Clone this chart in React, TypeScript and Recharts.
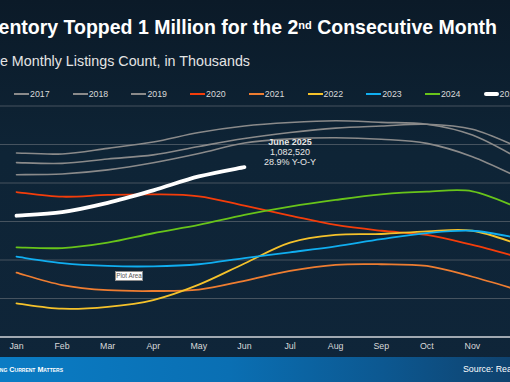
import React from 'react';
import { LineChart, Line, XAxis, YAxis, CartesianGrid, ReferenceDot } from 'recharts';

const months = ['Jan', 'Feb', 'Mar', 'Apr', 'May', 'Jun', 'Jul', 'Aug', 'Sep', 'Oct', 'Nov', 'Dec'];
const years = ['2017', '2018', '2019', '2020', '2021', '2022', '2023', '2024', '2025'];

const y2017 = [1156, 1151, 1180, 1213, 1262, 1296, 1314, 1323, 1315, 1305, 1249, 1130];
const y2018 = [1106, 1102, 1125, 1146, 1190, 1231, 1262, 1285, 1296, 1305, 1279, 1187];
const y2019 = [1043, 1047, 1068, 1105, 1153, 1208, 1229, 1235, 1227, 1206, 1137, 1031];
const y2020 = [953, 929, 938, 941, 931, 882, 831, 782, 752, 730, 678, 616];
const y2021 = [534, 470, 443, 439, 446, 492, 544, 575, 578, 569, 513, 444];
const y2022 = [375, 347, 357, 392, 472, 582, 690, 730, 735, 749, 752, 683];
const y2023 = [617, 584, 569, 567, 578, 610, 640, 671, 708, 740, 752, 714];
const y2024 = [666, 662, 690, 739, 782, 834, 877, 912, 941, 955, 957, 872];
const y2025 = [830, 849, 897, 962, 1034, 1082.52, null, null, null, null, null, null];

const yTicks = [200, 400, 600, 800, 1000, 1200, 1400];

const titleText = 'Inventory Topped 1 Million for the 2';
const titleSup = 'nd';
const titleRest = ' Consecutive Month';
const subtitleText = 'Active Monthly Listings Count, in Thousands';
const annMonth = 'Jul';
const annValue = 1163;
const annLines = ['June 2025', '1,082,520', '28.9% Y-O-Y'];
const footerLeft = 'Keeping Current Matters';
const footerRight = 'Source: Realtor.com';

const seriesValues = [y2017, y2018, y2019, y2020, y2021, y2022, y2023, y2024, y2025];
const seriesColors = ['#8a8a8a', '#8a8a8a', '#8a8a8a', '#f43d0a', '#ee7d31', '#f5c22b', '#10aef0', '#68c41a', '#ffffff'];
const seriesWidths = [1.6, 1.6, 1.6, 1.8, 1.8, 1.8, 1.8, 1.8, 3.8];

const data = months.map((m, i) => {
  const row: Record<string, any> = { month: m };
  years.forEach((y, k) => {
    row[y] = seriesValues[k][i];
  });
  return row;
});

const FONT = '"Liberation Sans", Arial, sans-serif';

// Excel-like smoothing (uniform Catmull-Rom as cubic Bezier)
const smoothCurve = (context: any) => {
  let pts: number[][] = [];
  return {
    areaStart() {},
    areaEnd() {},
    lineStart() {
      pts = [];
    },
    lineEnd() {
      const n = pts.length;
      if (!n) return;
      context.moveTo(pts[0][0], pts[0][1]);
      if (n === 1) {
        context.lineTo(pts[0][0], pts[0][1]);
        return;
      }
      for (let i = 0; i < n - 1; i++) {
        const p0 = pts[i - 1] || pts[i];
        const p1 = pts[i];
        const p2 = pts[i + 1];
        const p3 = pts[i + 2] || p2;
        const c1x = p1[0] + (p2[0] - p0[0]) / 6;
        const c1y = p1[1] + (p2[1] - p0[1]) / 6;
        const c2x = p2[0] - (p3[0] - p1[0]) / 6;
        const c2y = p2[1] - (p3[1] - p1[1]) / 6;
        context.bezierCurveTo(c1x, c1y, c2x, c2y, p2[0], p2[1]);
      }
    },
    point(x: number, y: number) {
      pts.push([+x, +y]);
    },
  };
};

const AnnLabel = (props: any) => {
  const vb = props.viewBox || {};
  const cx = (vb.x || 0) + (vb.width || 0) / 2;
  const cy = (vb.y || 0) + (vb.height || 0) / 2;
  return (
    <g>
      {annLines.map((t, i) => (
        <text
          key={t}
          x={cx}
          y={cy + (i - 1) * 10}
          textAnchor="middle"
          dominantBaseline="central"
          fill="#e6e6e6"
          fontSize={9}
          fontWeight={i === 0 ? 700 : 400}
          fontFamily={FONT}
        >
          {t}
        </text>
      ))}
    </g>
  );
};

export default function App() {
  return (
    <div
      style={{
        position: 'fixed',
        left: 0,
        top: 0,
        width: 510,
        height: 382,
        overflow: 'hidden',
        background: 'linear-gradient(180deg, #0b1a28 0%, #0e2436 40%, #0f2539 100%)',
        fontFamily: FONT,
      }}
    >
      {/* Title */}
      <div
        style={{
          position: 'absolute',
          right: 13,
          top: 15,
          whiteSpace: 'nowrap',
          color: '#ffffff',
          fontWeight: 700,
          fontSize: 19.5,
          lineHeight: '24px',
        }}
      >
        {titleText}
        <sup style={{ fontSize: 11, verticalAlign: 'top', position: 'relative', top: -2 }}>{titleSup}</sup>
        {titleRest}
      </div>
      {/* Subtitle */}
      <div
        style={{
          position: 'absolute',
          left: 250,
          top: 52,
          transform: 'translateX(-100%)',
          whiteSpace: 'nowrap',
          color: '#e4e4e4',
          fontSize: 14.3,
          lineHeight: '18px',
        }}
      >
        {subtitleText}
      </div>

      {/* Legend */}
      {years.map((y, i) => (
        <div
          key={y}
          style={{
            position: 'absolute',
            left: 14 + i * 58.7,
            top: 88,
            height: 12,
            display: 'flex',
            alignItems: 'center',
            whiteSpace: 'nowrap',
          }}
        >
          <div
            style={{
              width: 15,
              height: i === 8 ? 4 : 2,
              borderRadius: i === 8 ? 2 : 0,
              background: seriesColors[i],
              marginRight: 1,
            }}
          />
          <span style={{ color: '#d9d9d9', fontSize: 8.8 }}>{y}</span>
        </div>
      ))}

      {/* Chart */}
      <div style={{ position: 'absolute', left: -40, top: 0 }}>
        <LineChart
          width={580}
          height={367}
          data={data}
          margin={{ top: 106, right: 0, left: 0, bottom: 0 }}
          style={{ fontFamily: FONT }}
        >
          <CartesianGrid vertical={false} stroke="#46535f" strokeWidth={1.2} />
          <XAxis
            dataKey="month"
            padding={{ left: 56.5, right: 22 }}
            height={30}
            tickLine={false}
            tickSize={0}
            tickMargin={6}
            axisLine={{ stroke: '#c9ced3', strokeWidth: 1.6 }}
            tick={{ fill: '#d9d9d9', fontSize: 8.8 }}
            interval={0}
          />
          <YAxis hide domain={[200, 1400]} ticks={yTicks} type="number" />
          {years.map((y, i) => (
            <Line
              key={y}
              type={smoothCurve as any}
              dataKey={y}
              stroke={seriesColors[i]}
              strokeWidth={seriesWidths[i]}
              strokeLinecap="round"
              dot={false}
              activeDot={false}
              isAnimationActive={false}
              connectNulls={false}
            />
          ))}
          <ReferenceDot
            x={annMonth}
            y={annValue}
            r={0}
            fill="none"
            stroke="none"
            label={<AnnLabel />}
          />
        </LineChart>
      </div>

      {/* Plot Area hover box */}
      <div
        style={{
          position: 'absolute',
          left: 115,
          top: 271,
          width: 28,
          height: 10,
          background: '#ffffff',
          border: '1px solid #8c8c8c',
          boxSizing: 'border-box',
          color: '#555',
          fontSize: 6.3,
          lineHeight: '8px',
          textAlign: 'center',
          whiteSpace: 'nowrap',
        }}
      >
        Plot Area
      </div>

      {/* Footer */}
      <div
        style={{
          position: 'absolute',
          left: 0,
          top: 357,
          width: 510,
          height: 25,
          background: 'linear-gradient(90deg, #0a7cc4 0%, #0a6fb3 45%, #0c5891 75%, #0f426e 100%)',
        }}
      >
        <div
          style={{
            position: 'absolute',
            left: 63,
            top: 8,
            transform: 'translateX(-100%)',
            whiteSpace: 'nowrap',
            color: '#ffffff',
            fontWeight: 700,
            fontSize: 7.2,
            fontVariant: 'small-caps',
            lineHeight: '10px',
          }}
        >
          {footerLeft}
        </div>
        <div
          style={{
            position: 'absolute',
            left: 463,
            top: 7,
            whiteSpace: 'nowrap',
            color: '#ffffff',
            fontSize: 8.8,
            lineHeight: '11px',
          }}
        >
          {footerRight}
        </div>
      </div>
    </div>
  );
}
